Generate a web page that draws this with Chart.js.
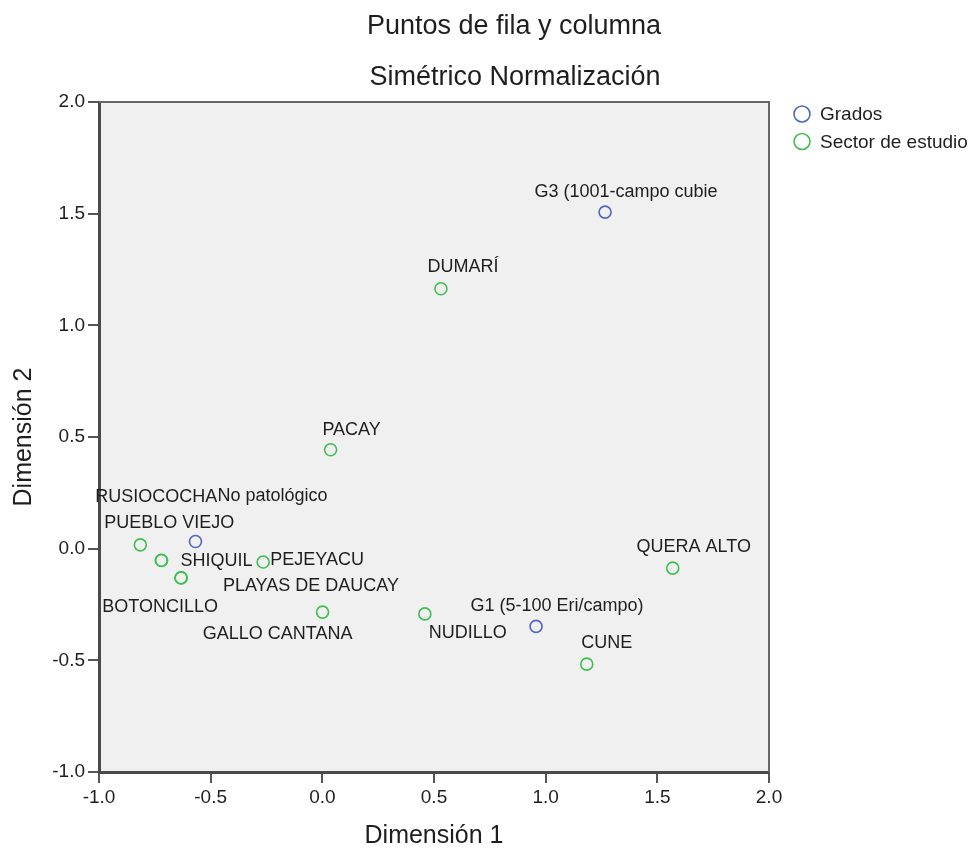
<!DOCTYPE html>
<html>
<head>
<meta charset="utf-8">
<script src="https://cdn.jsdelivr.net/npm/chart.js@4"></script>
<style>
  html, body { margin: 0; padding: 0; background: #fff; }
  #wrap { width: 972px; height: 848px; }
</style>
</head>
<body>
<div id="wrap"><canvas id="chart"></canvas></div>
<script>
// data
const gradosNames = ['No patológico', 'G1 (5-100 Eri/campo)', 'G3 (1001-campo cubie'];
const gradosX = [-0.568, 0.957, 1.266];
const gradosY = [0.032, -0.348, 1.507];

const sectorNames = ['RUSIOCOCHA', 'PUEBLO VIEJO', 'SHIQUIL', 'PLAYAS DE DAUCAY', 'BOTONCILLO',
    'PEJEYACU', 'GALLO CANTANA', 'NUDILLO', 'CUNE', 'QUERA ALTO', 'PACAY', 'DUMARÍ'];
const sectorX = [-0.815, -0.721, -0.720, -0.633, -0.632, -0.265, 0.001, 0.459, 1.184, 1.569, 0.037, 0.531];
const sectorY = [0.017, -0.052, -0.053, -0.130, -0.131, -0.060, -0.284, -0.292, -0.517, -0.087, 0.443, 1.164];

const seriesNames = ['Grados', 'Sector de estudio'];
const axisMin = -1.0;
const axisMax = 2.0;
const axisStep = 0.5;
const titleLines = ['Puntos de fila y columna', 'Simétrico Normalización'];
const xTitle = 'Dimensión 1';
const yTitle = 'Dimensión 2';

// label placement (pixel offset of label centre from its point)
const gradosLabelOffsets = [[77, -45], [21, -20], [21, -20]];
const sectorLabelOffsets = [[16, -48], [8, -37], [55, 1], [130, 8], [-21, 29],
    [54, -2], [-45, 22], [43, 19], [20, -21], [21, -21], [21, -20], [22, -22]];

const BLUE = '#4f67c2';
const GREEN = '#3fbf4f';
const FONT = '"Liberation Sans", Arial, sans-serif';
const TEXT = '#1e1e1e';
const AXIS = '#555555';

function toPoints(xs, ys) {
    let pts = [];
    for (let i in xs) {
        pts.push({ x: xs[i], y: ys[i] });
    }
    return pts;
}

const decor = {
    id: 'decor',
    beforeDraw(chart) {
        const ctx = chart.ctx;
        const a = chart.chartArea;
        ctx.save();
        ctx.fillStyle = '#fff';
        ctx.fillRect(0, 0, chart.width, chart.height);
        ctx.fillStyle = '#f0f0f0';
        ctx.fillRect(a.left, a.top, a.right - a.left, a.bottom - a.top);
        ctx.restore();
    },
    afterDraw(chart) {
        const ctx = chart.ctx;
        const a = chart.chartArea;
        ctx.save();
        // top and right frame
        ctx.strokeStyle = '#666';
        ctx.lineWidth = 2;
        ctx.beginPath();
        ctx.moveTo(a.left, a.top);
        ctx.lineTo(a.right, a.top);
        ctx.lineTo(a.right, a.bottom);
        ctx.stroke();

        // titles
        ctx.fillStyle = TEXT;
        ctx.textAlign = 'center';
        ctx.textBaseline = 'middle';
        ctx.font = '27px ' + FONT;
        ctx.fillText(titleLines[0], 514, 27);
        ctx.fillText(titleLines[1], 515, 78);

        // axis titles
        ctx.font = '25px ' + FONT;
        ctx.fillText(xTitle, (a.left + a.right) / 2, 836);
        ctx.save();
        ctx.translate(24, (a.top + a.bottom) / 2);
        ctx.rotate(-Math.PI / 2);
        ctx.fillText(yTitle, 0, 0);
        ctx.restore();

        // legend
        const colors = [BLUE, GREEN];
        const rows = [114, 141.5];
        ctx.font = '19px ' + FONT;
        ctx.textAlign = 'left';
        for (let i in seriesNames) {
            ctx.strokeStyle = colors[i];
            ctx.lineWidth = 1.6;
            ctx.beginPath();
            ctx.arc(802, rows[i], 8, 0, Math.PI * 2);
            ctx.stroke();
            ctx.fillStyle = TEXT;
            ctx.fillText(seriesNames[i], 820, rows[i] + 1);
        }
        ctx.restore();
    },
    afterDatasetsDraw(chart) {
        const ctx = chart.ctx;
        const names = [gradosNames, sectorNames];
        const offsets = [gradosLabelOffsets, sectorLabelOffsets];
        ctx.save();
        ctx.font = '18px ' + FONT;
        ctx.fillStyle = TEXT;
        ctx.textAlign = 'center';
        ctx.textBaseline = 'middle';
        chart.data.datasets.forEach((ds, d) => {
            const meta = chart.getDatasetMeta(d);
            meta.data.forEach((el, i) => {
                const off = offsets[d][i];
                ctx.fillText(names[d][i], el.x + off[0], el.y + off[1]);
            });
        });
        ctx.restore();
    }
};

function axisOptions(fit) {
    return {
        type: 'linear',
        min: axisMin,
        max: axisMax,
        ticks: {
            stepSize: axisStep,
            color: TEXT,
            font: { family: FONT, size: 19 },
            padding: 3,
            callback: (v) => v.toFixed(1)
        },
        grid: {
            drawOnChartArea: false,
            drawTicks: true,
            tickLength: 11,
            color: AXIS,
            lineWidth: 2
        },
        border: { display: true, color: '#4a4a4a', width: 3 },
        afterFit: fit
    };
}

new Chart(document.getElementById('chart'), {
    type: 'scatter',
    data: {
        datasets: [
            {
                label: seriesNames[0],
                data: toPoints(gradosX, gradosY),
                borderColor: BLUE,
                backgroundColor: 'rgba(0,0,0,0)',
                pointRadius: 6,
                pointBorderWidth: 1.6
            },
            {
                label: seriesNames[1],
                data: toPoints(sectorX, sectorY),
                borderColor: GREEN,
                backgroundColor: 'rgba(0,0,0,0)',
                pointRadius: 6,
                pointBorderWidth: 1.6
            }
        ]
    },
    options: {
        responsive: true,
        maintainAspectRatio: false,
        animation: false,
        layout: { padding: { left: 0, right: 203, top: 102, bottom: 0 } },
        plugins: {
            legend: { display: false },
            tooltip: { enabled: false }
        },
        scales: {
            x: axisOptions((s) => { s.height = 76; }),
            y: axisOptions((s) => { s.width = 99; })
        }
    },
    plugins: [decor]
});
</script>
</body>
</html>
